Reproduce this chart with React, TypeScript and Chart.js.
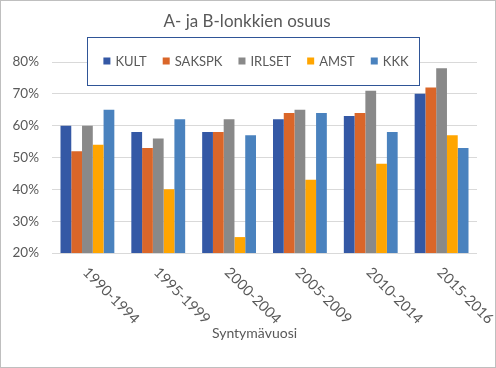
import React, { useEffect, useRef } from "react";
import { Chart, registerables } from "chart.js";

Chart.register(...registerables);

const title = "A- ja B-lonkkien osuus";
const xTitle = "Syntymävuosi";
const categories = ["1990-1994", "1995-1999", "2000-2004", "2005-2009", "2010-2014", "2015-2016"];
const seriesNames = ["KULT", "SAKSPK", "IRLSET", "AMST", "KKK"];
const kult = [60, 58, 58, 62, 63, 70];
const sakspk = [52, 53, 58, 64, 64, 72];
const irlset = [60, 56, 62, 65, 71, 78];
const amst = [54, 40, 25, 43, 48, 57];
const kkk = [65, 62, 57, 64, 58, 53];
const colors = ["#3458A5", "#DA6629", "#898989", "#FFA500", "#4A82BE"];
const yMin = 20;
const yMax = 80;
const yStep = 10;

const FONT = "Lato, 'Open Sans', sans-serif";
const TEXT = "#595959";

const overlay = {
  id: "overlay",
  afterDraw(chart: any) {
    const ctx = chart.ctx;
    const area = chart.chartArea;
    const xs = chart.scales.x;
    ctx.save();
    // outer border
    ctx.strokeStyle = "#bfbfbf";
    ctx.lineWidth = 1;
    ctx.strokeRect(0.5, 0.5, chart.width - 1, chart.height - 1);

    // title
    ctx.fillStyle = TEXT;
    ctx.font = `17px ${FONT}`;
    ctx.textAlign = "center";
    ctx.textBaseline = "middle";
    ctx.fillText(title, chart.width / 2 - 1, 22);

    // rotated category labels
    ctx.font = `14.5px ${FONT}`;
    categories.forEach((c, i) => {
      const x = xs.getPixelForValue(i);
      ctx.save();
      ctx.translate(x - 2, area.bottom + 17);
      ctx.rotate(Math.PI / 4);
      ctx.textAlign = "left";
      ctx.textBaseline = "middle";
      ctx.fillText(c, 0, 0);
      ctx.restore();
    });

    // x title
    ctx.font = `14px ${FONT}`;
    ctx.textAlign = "center";
    ctx.textBaseline = "middle";
    ctx.fillText(xTitle, (area.left + area.right) / 2 - 10, 333);

    // legend box
    const bx = 87, by = 37, bw = 332, bh = 48;
    ctx.fillStyle = "#ffffff";
    ctx.fillRect(bx, by, bw, bh);
    ctx.strokeStyle = "#2F5597";
    ctx.strokeRect(bx + 0.5, by + 0.5, bw, bh);
    ctx.font = `13px ${FONT}`;
    const box = 7, gapT = 5, gapI = 16;
    const widths = chart.data.datasets.map((d: any) => box + gapT + ctx.measureText(d.label).width);
    const total = widths.reduce((a: number, b: number) => a + b, 0) + gapI * (widths.length - 1);
    let cx = bx + bw / 2 - total / 2 + 3;
    const cy = 61;
    chart.data.datasets.forEach((d: any, i: number) => {
      ctx.fillStyle = d.backgroundColor;
      ctx.fillRect(cx, cy - 3.5, box, box);
      ctx.fillStyle = TEXT;
      ctx.textAlign = "left";
      ctx.textBaseline = "middle";
      ctx.fillText(d.label, cx + box + gapT, cy + 0.5);
      cx += widths[i] + gapI;
    });
    ctx.restore();
  },
};

export default function App() {
  const ref = useRef<HTMLCanvasElement | null>(null);
  useEffect(() => {
    document.body.style.margin = "0";
    const values = [kult, sakspk, irlset, amst, kkk];
    const chart = new Chart(ref.current as HTMLCanvasElement, {
      type: "bar",
      data: {
        labels: categories,
        datasets: seriesNames.map((n, i) => ({
          label: n,
          data: values[i],
          backgroundColor: colors[i],
          borderWidth: 0,
          barPercentage: 1,
          categoryPercentage: 0.76,
        })),
      },
      options: {
        responsive: false,
        animation: false,
        devicePixelRatio: 1,
        layout: { padding: { top: 62, right: 19, left: 0, bottom: 0 } },
        plugins: {
          legend: { display: false },
          title: { display: false },
          tooltip: { enabled: false },
        },
        scales: {
          x: {
            grid: { display: false },
            border: { display: false },
            ticks: { display: false },
            afterFit: (s: any) => {
              s.height = 115;
            },
          },
          y: {
            min: yMin,
            max: yMax,
            grid: { color: "#d9d9d9", drawTicks: false, lineWidth: 1 },
            border: { display: false },
            ticks: {
              stepSize: yStep,
              padding: 13,
              color: TEXT,
              font: { family: FONT, size: 13.5 },
              callback: (v: any) => v + "%",
            },
            afterFit: (s: any) => {
              s.width = 52;
            },
          },
        },
      },
      plugins: [overlay],
    });
    return () => chart.destroy();
  }, []);
  return <canvas ref={ref} width={496} height={368} style={{ display: "block" }} />;
}
